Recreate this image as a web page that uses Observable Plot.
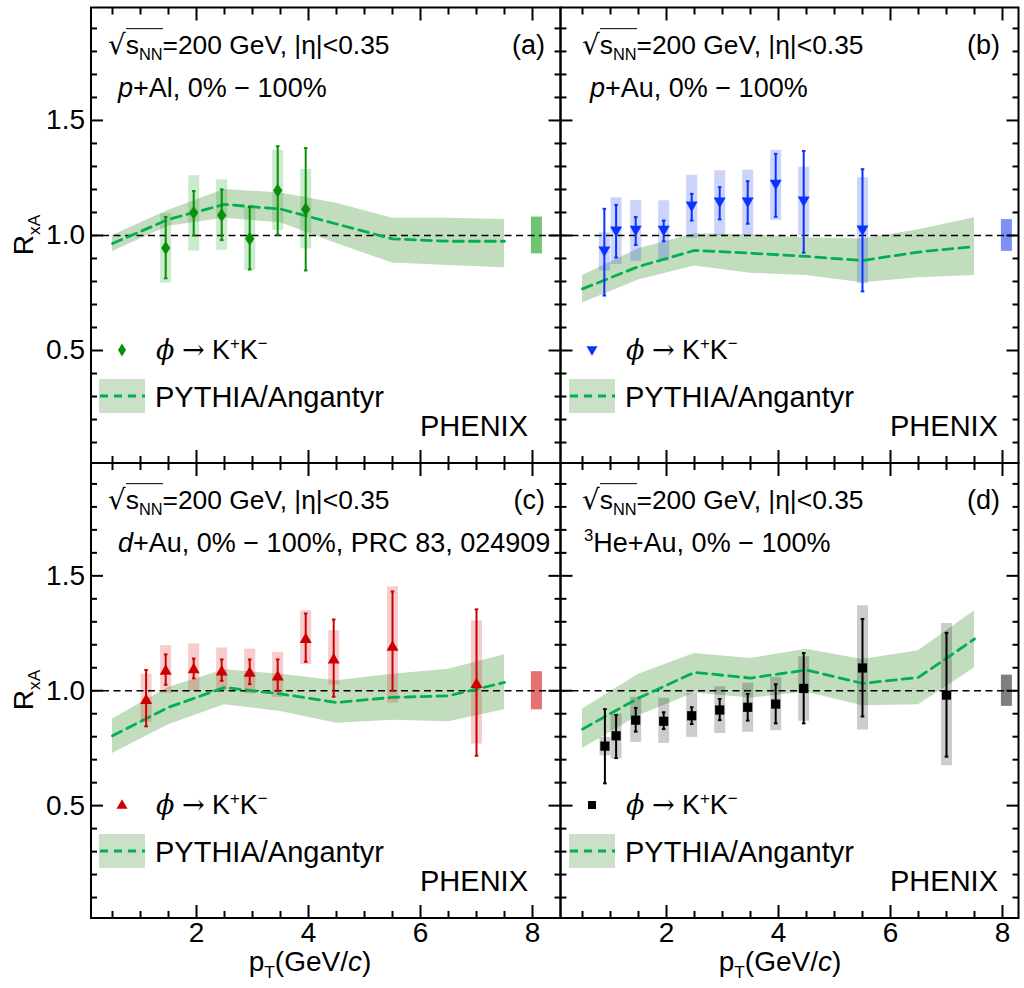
<!DOCTYPE html>
<html><head><meta charset="utf-8">
<script src="https://cdn.jsdelivr.net/npm/d3@7"></script>
<script src="https://cdn.jsdelivr.net/npm/@observablehq/plot@0.6"></script>
<style>
body{margin:0;background:#fff;}
#root{position:relative;width:1024px;height:988px;overflow:hidden;font-family:"Liberation Sans",Arial,Helvetica,sans-serif;color:#000;}
.t{position:absolute;white-space:nowrap;line-height:1;}
.t sub{font-size:0.62em;vertical-align:-0.38em;line-height:0;}
.t sup{font-size:0.62em;vertical-align:0.6em;line-height:0;}
.ov{border-top:1.6px solid #000;padding-top:1px;}
.rad{font-family:"DejaVu Sans";font-size:1.05em;}
.phi{font-family:"DejaVu Serif";font-style:italic;}
.arr{font-family:"DejaVu Serif";}
.lg{position:absolute;}
</style></head><body><div id="root"></div><script>
// ---------- data ----------
const modelPt = [0.5, 1.5, 2.5, 3.5, 4.5, 5.5, 6.5, 7.5];

// (a) p+Al
const ptA      = [1.45, 1.95, 2.45, 2.95, 3.45, 3.95];
const valA     = [0.946, 1.099, 1.088, 0.986, 1.196, 1.114];
const statLoA  = [0.814, 1.000, 0.980, 0.852, 1.004, 0.848];
const statHiA  = [1.080, 1.193, 1.200, 1.123, 1.388, 1.380];
const sysLoA   = [0.793, 0.932, 0.936, 0.849, 1.022, 0.942];
const sysHiA   = [1.094, 1.260, 1.242, 1.123, 1.370, 1.287];
const modelCA  = [0.965, 1.070, 1.135, 1.115, 1.050, 0.985, 0.975, 0.975];
const modelLoA = [0.930, 1.040, 1.075, 1.055, 0.965, 0.880, 0.870, 0.860];
const modelHiA = [1.000, 1.110, 1.200, 1.185, 1.140, 1.075, 1.075, 1.070];
const normA = [0.080];

// (b) p+Au
const ptB      = [0.89, 1.10, 1.45, 1.95, 2.45, 2.95, 3.45, 3.95, 4.45, 5.50];
const valB     = [0.935, 1.022, 1.025, 1.025, 1.130, 1.148, 1.148, 1.225, 1.152, 1.026];
const statLoB  = [0.739, 0.904, 0.959, 0.975, 1.065, 1.070, 1.051, 1.081, 0.925, 0.757];
const statHiB  = [1.116, 1.133, 1.080, 1.065, 1.181, 1.210, 1.236, 1.355, 1.367, 1.288];
const sysLoB   = [0.845, 0.874, 0.888, 0.888, 0.988, 1.000, 1.000, 1.065, 1.000, 0.790];
const sysHiB   = [1.012, 1.164, 1.152, 1.151, 1.262, 1.281, 1.284, 1.370, 1.297, 1.251];
const modelCB  = [0.768, 0.865, 0.935, 0.923, 0.909, 0.891, 0.928, 0.952];
const modelLoB = [0.706, 0.807, 0.867, 0.836, 0.826, 0.794, 0.816, 0.826];
const modelHiB = [0.826, 0.942, 1.007, 1.003, 0.990, 0.985, 1.025, 1.077];
const normB = [0.069];

// (c) d+Au
const ptC      = [1.10, 1.45, 1.95, 2.45, 2.95, 3.45, 3.95, 4.45, 5.50, 7.00];
const valC     = [0.960, 1.087, 1.094, 1.084, 1.078, 1.062, 1.225, 1.136, 1.191, 1.029];
const statLoC  = [0.845, 1.026, 1.054, 1.043, 1.029, 1.000, 1.126, 0.974, 1.000, 0.717];
const statHiC  = [1.090, 1.158, 1.140, 1.136, 1.136, 1.136, 1.336, 1.310, 1.432, 1.354];
const sysLoC   = [0.862, 0.988, 0.997, 0.996, 0.986, 0.971, 1.114, 1.025, 0.945, 0.768];
const sysHiC   = [1.072, 1.196, 1.204, 1.186, 1.181, 1.167, 1.348, 1.261, 1.452, 1.303];
const modelCC  = [0.804, 0.928, 1.014, 0.986, 0.949, 0.971, 0.978, 1.036];
const modelLoC = [0.727, 0.852, 0.939, 0.910, 0.859, 0.872, 0.865, 0.917];
const modelHiC = [0.877, 1.014, 1.091, 1.072, 1.043, 1.072, 1.094, 1.157];
const normC = [0.083];

// (d) 3He+Au
const ptD      = [0.90, 1.10, 1.45, 1.95, 2.45, 2.95, 3.45, 3.95, 4.45, 5.50, 7.00];
const valD     = [0.759, 0.804, 0.872, 0.867, 0.891, 0.916, 0.928, 0.942, 1.010, 1.099, 0.981];
const statLoD  = [0.597, 0.707, 0.822, 0.833, 0.855, 0.872, 0.870, 0.858, 0.858, 0.888, 0.713];
const statHiD  = [0.920, 0.894, 0.925, 0.906, 0.928, 0.964, 0.986, 1.028, 1.164, 1.312, 1.252];
const sysLoD   = [0.717, 0.703, 0.775, 0.771, 0.797, 0.814, 0.819, 0.826, 0.867, 0.829, 0.674];
const sysHiD   = [0.797, 0.899, 0.971, 0.967, 0.988, 1.017, 1.033, 1.058, 1.148, 1.370, 1.293];
const modelCD  = [0.833, 0.968, 1.080, 1.055, 1.090, 1.032, 1.058, 1.225];
const modelLoD = [0.749, 0.891, 0.990, 0.968, 0.993, 0.935, 0.939, 1.099];
const modelHiD = [0.920, 1.072, 1.162, 1.140, 1.181, 1.136, 1.174, 1.348];
const normD = [0.068];

const normPt = [8.07];
const yMajor = [0.5, 1.0, 1.5];
const yMinor = [0.1,0.2,0.3,0.4,0.6,0.7,0.8,0.9,1.1,1.2,1.3,1.4,1.6,1.7,1.8,1.9];
const xMajor = [2, 4, 6, 8];
const xMinor = [0.5,1,1.5,2.5,3,3.5,4.5,5,5.5,6.5,7,7.5];
const yTickLabels = ["0.5", "1.0", "1.5"];

const energyText = '<span class="rad">√</span><span class="ov">s<sub>NN</sub></span>=200 GeV, |η|&lt;0.35';
const systemTexts = ['<i>p</i>+Al, 0% − 100%', '<i>p</i>+Au, 0% − 100%',
  '<i>d</i>+Au, 0% − 100%, PRC 83, 024909', '<sup>3</sup>He+Au, 0% − 100%'];
const panelTags = ["(a)", "(b)", "(c)", "(d)"];
const legendData = '<span class="phi">ϕ</span> <span class="arr">→</span> K<sup>+</sup>K<sup>−</sup>';
const legendModel = "PYTHIA/Angantyr";
const expText = "PHENIX";
const yLabel = 'R<sub>xA</sub>';
const xLabel = 'p<sub>T</sub>(GeV/<i>c</i>)';

// ---------- symbols ----------
const sym = f => ({draw: f});
const diamondSym = sym(c => {c.moveTo(0,-7);c.lineTo(4.6,0);c.lineTo(0,7);c.lineTo(-4.6,0);c.closePath();});
const triDownSym = sym(c => {c.moveTo(-6,-4);c.lineTo(6,-4);c.lineTo(0,6.5);c.closePath();});
const triUpSym   = sym(c => {c.moveTo(-6,4);c.lineTo(6,4);c.lineTo(0,-6.5);c.closePath();});
const squareSym  = sym(c => {c.moveTo(-4.6,-4.6);c.lineTo(4.6,-4.6);c.lineTo(4.6,4.6);c.lineTo(-4.6,4.6);c.closePath();});
const capSym     = sym(c => {c.moveTo(-1.8,0);c.lineTo(1.8,0);});
const tickSym = (dx, dy) => sym(c => {c.moveTo(0,0);c.lineTo(dx,dy);});

const root = document.getElementById("root");
const FONT = '"Liberation Sans", Arial, Helvetica, sans-serif';

function panel(cfg) {
  const pts = cfg.pt.map((p,i) => ({pt:p, v:cfg.val[i], slo:cfg.statLo[i], shi:cfg.statHi[i], ylo:cfg.sysLo[i], yhi:cfg.sysHi[i]}));
  const model = modelPt.map((p,i) => ({pt:p, c:cfg.mc[i], lo:cfg.ml[i], hi:cfg.mh[i]}));
  const norm = normPt.map((p,i) => ({pt:p, lo:1-cfg.norm[i], hi:1+cfg.norm[i]}));
  const [x0,x1] = cfg.xd, [y0,y1] = cfg.yd;
  const inX = a => a.filter(d => d > x0 && d < x1);
  const inY = a => a.filter(d => d > y0 && d < y1);
  const tk = {stroke:"black", strokeWidth:2, fill:"none", r:1};
  const marks = [
    Plot.areaY(model, {x:"pt", y1:"lo", y2:"hi", fill:"#4f9a45", fillOpacity:0.35}),
    Plot.ruleX(pts, {x:"pt", y1:"ylo", y2:"yhi", stroke:cfg.sys, strokeOpacity:cfg.sysOp, strokeWidth:11}),
    Plot.ruleX(norm, {x:"pt", y1:"lo", y2:"hi", stroke:cfg.sys, strokeOpacity:cfg.normOp, strokeWidth:11}),
    Plot.ruleY([1], {stroke:"black", strokeWidth:1.6, strokeDasharray:"7,4.5"}),
    Plot.line(model, {x:"pt", y:"c", stroke:"#00b050", strokeWidth:2.8, strokeDasharray:"10,6"}),
    Plot.ruleX(pts, {x:"pt", y1:"slo", y2:"shi", stroke:cfg.col, strokeWidth:2}),
    Plot.dot(pts, {x:"pt", y:"slo", symbol:capSym, stroke:cfg.col, strokeWidth:2, fill:"none", r:1}),
    Plot.dot(pts, {x:"pt", y:"shi", symbol:capSym, stroke:cfg.col, strokeWidth:2, fill:"none", r:1}),
    Plot.dot(pts, {x:"pt", y:"v", symbol:cfg.symbol, fill:cfg.col, stroke:"none", r:4}),
    // ticks on all four sides (inward)
    Plot.dot(inY(yMajor), {y:d=>d, frameAnchor:"left", symbol:tickSym(12,0), ...tk}),
    Plot.dot(inY(yMinor), {y:d=>d, frameAnchor:"left", symbol:tickSym(6,0), ...tk}),
    Plot.dot(inY(yMajor), {y:d=>d, frameAnchor:"right", symbol:tickSym(-12,0), ...tk}),
    Plot.dot(inY(yMinor), {y:d=>d, frameAnchor:"right", symbol:tickSym(-6,0), ...tk}),
    Plot.dot(inX(xMajor), {x:d=>d, frameAnchor:"bottom", symbol:tickSym(0,-13), ...tk}),
    Plot.dot(inX(xMinor), {x:d=>d, frameAnchor:"bottom", symbol:tickSym(0,-7), ...tk}),
    Plot.dot(inX(xMajor), {x:d=>d, frameAnchor:"top", symbol:tickSym(0,13), ...tk}),
    Plot.dot(inX(xMinor), {x:d=>d, frameAnchor:"top", symbol:tickSym(0,7), ...tk}),
    Plot.frame({stroke:"black", strokeWidth:2})
  ];
  if (cfg.yAxis) marks.push(Plot.axisY({ticks:yMajor, tickSize:0, tickPadding:6, tickFormat:(d)=>yTickLabels[yMajor.indexOf(d)], label:null, fontSize:28}));
  if (cfg.xAxis) marks.push(Plot.axisX({ticks:xMajor, tickSize:0, tickPadding:4, tickFormat:d=>String(d), label:null, fontSize:28}));
  const svg = Plot.plot({
    width: cfg.w, height: cfg.h,
    marginLeft: cfg.ml0, marginRight: cfg.mr0, marginTop: cfg.mt0, marginBottom: cfg.mb0,
    x: {domain: cfg.xd, axis: null},
    y: {domain: cfg.yd, axis: null},
    style: {background:"transparent", fontFamily:FONT, fontSize:"28px", color:"black", overflow:"visible"},
    marks
  });
  svg.style.position = "absolute";
  svg.style.left = cfg.left + "px";
  svg.style.top = cfg.top + "px";
  svg.style.maxWidth = "none";
  root.appendChild(svg);
}

const xdL = [0.116, 8.5], xdR = [0.107, 8.286];
const ydT = [0.011, 1.991], ydB = [0.011, 1.991];

panel({pt:ptA, val:valA, statLo:statLoA, statHi:statHiA, sysLo:sysLoA, sysHi:sysHiA, mc:modelCA, ml:modelLoA, mh:modelHiA, norm:normA,
  col:"#0a8f0a", sys:"#33aa33", sysOp:0.25, normOp:0.7, symbol:diamondSym,
  left:0, top:0, w:563, h:466, ml0:90.5, mr0:3, mt0:7, mb0:3.5, xd:xdL, yd:ydT, yAxis:true, xAxis:false});
panel({pt:ptB, val:valB, statLo:statLoB, statHi:statHiB, sysLo:sysLoB, sysHi:sysHiB, mc:modelCB, ml:modelLoB, mh:modelHiB, norm:normB,
  col:"#0a33ff", sys:"#3355ee", sysOp:0.25, normOp:0.65, symbol:triDownSym,
  left:557, top:0, w:467, h:466, ml0:3, mr0:6, mt0:7, mb0:3.5, xd:xdR, yd:ydT, yAxis:false, xAxis:false});
panel({pt:ptC, val:valC, statLo:statLoC, statHi:statHiC, sysLo:sysLoC, sysHi:sysHiC, mc:modelCC, ml:modelLoC, mh:modelHiC, norm:normC,
  col:"#cc0000", sys:"#dd3333", sysOp:0.25, normOp:0.7, symbol:triUpSym,
  left:0, top:459, w:563, h:500, ml0:90.5, mr0:3, mt0:3.5, mb0:41.5, xd:xdL, yd:ydB, yAxis:true, xAxis:true});
panel({pt:ptD, val:valD, statLo:statLoD, statHi:statHiD, sysLo:sysLoD, sysHi:sysHiD, mc:modelCD, ml:modelLoD, mh:modelHiD, norm:normD,
  col:"#000000", sys:"#000000", sysOp:0.2, normOp:0.5, symbol:squareSym,
  left:557, top:459, w:467, h:500, ml0:3, mr0:6, mt0:3.5, mb0:41.5, xd:xdR, yd:ydB, yAxis:false, xAxis:true});

// ---------- text overlays ----------
function txt(html, x, y, size, anchor="start", extra="") {
  const d = document.createElement("div");
  d.className = "t";
  d.innerHTML = html;
  d.style.left = x + "px"; d.style.top = y + "px";
  d.style.fontSize = size + "px";
  const tx = anchor === "end" ? "-100%" : anchor === "middle" ? "-50%" : "0";
  d.style.transform = `translate(${tx}, -50%) ${extra}`;
  root.appendChild(d);
  return d;
}
function legendSwatches(x, y, symbolPath, color) {
  const ns = "http://www.w3.org/2000/svg";
  const s = document.createElementNS(ns, "svg");
  s.setAttribute("class", "lg");
  s.setAttribute("width", 60); s.setAttribute("height", 90);
  s.style.left = (x - 30) + "px"; s.style.top = (y - 20) + "px";
  s.innerHTML = `<path d="${symbolPath}" transform="translate(30,20)" fill="${color}"/>
    <rect x="7" y="49" width="46" height="34" fill="#4f9a45" fill-opacity="0.3"/>
    <line x1="8" x2="53" y1="66" y2="66" stroke="#00b050" stroke-width="2.8" stroke-dasharray="8,6"/>`;
  root.appendChild(s);
}
const offs = [[0,0],[470,0],[0,455],[470,455]];
const legendPaths = ["M0,-6.5L4,0L0,6.5L-4,0Z", "M-5.5,-3.8L5.5,-3.8L0,5.8Z", "M-5.5,3.8L5.5,3.8L0,-5.8Z", "M-4,-4H4V4H-4Z"];
const legendCols = ["#0a8f0a", "#0a33ff", "#cc0000", "#000000"];
const tagRight = [545, 1000, 545, 1000];
const energyLeft = [108, 582, 108, 582];
const sysLeft = [118, 590, 118, 584];
offs.forEach(([dx,dy], i) => {
  txt(energyText, energyLeft[i], 45 + dy, 26.4);
  txt(panelTags[i], tagRight[i], 45 + dy, 27, "end");
  txt(systemTexts[i], sysLeft[i], 88 + dy, 27);
  legendSwatches(122 + dx, 350 + dy, legendPaths[i], legendCols[i]);
  txt(legendData, 156 + dx, 350 + dy, 27);
  txt(legendModel, 155 + dx, 397 + dy, 29);
  txt(expText, 528 + dx, 426 + dy, 29, "end");
});
[235, 690].forEach(y => txt(yLabel, 24, y, 28, "middle", "rotate(-90deg)"));
[310, 780].forEach(x => txt(xLabel, x, 962, 28, "middle"));
</script></body></html>
